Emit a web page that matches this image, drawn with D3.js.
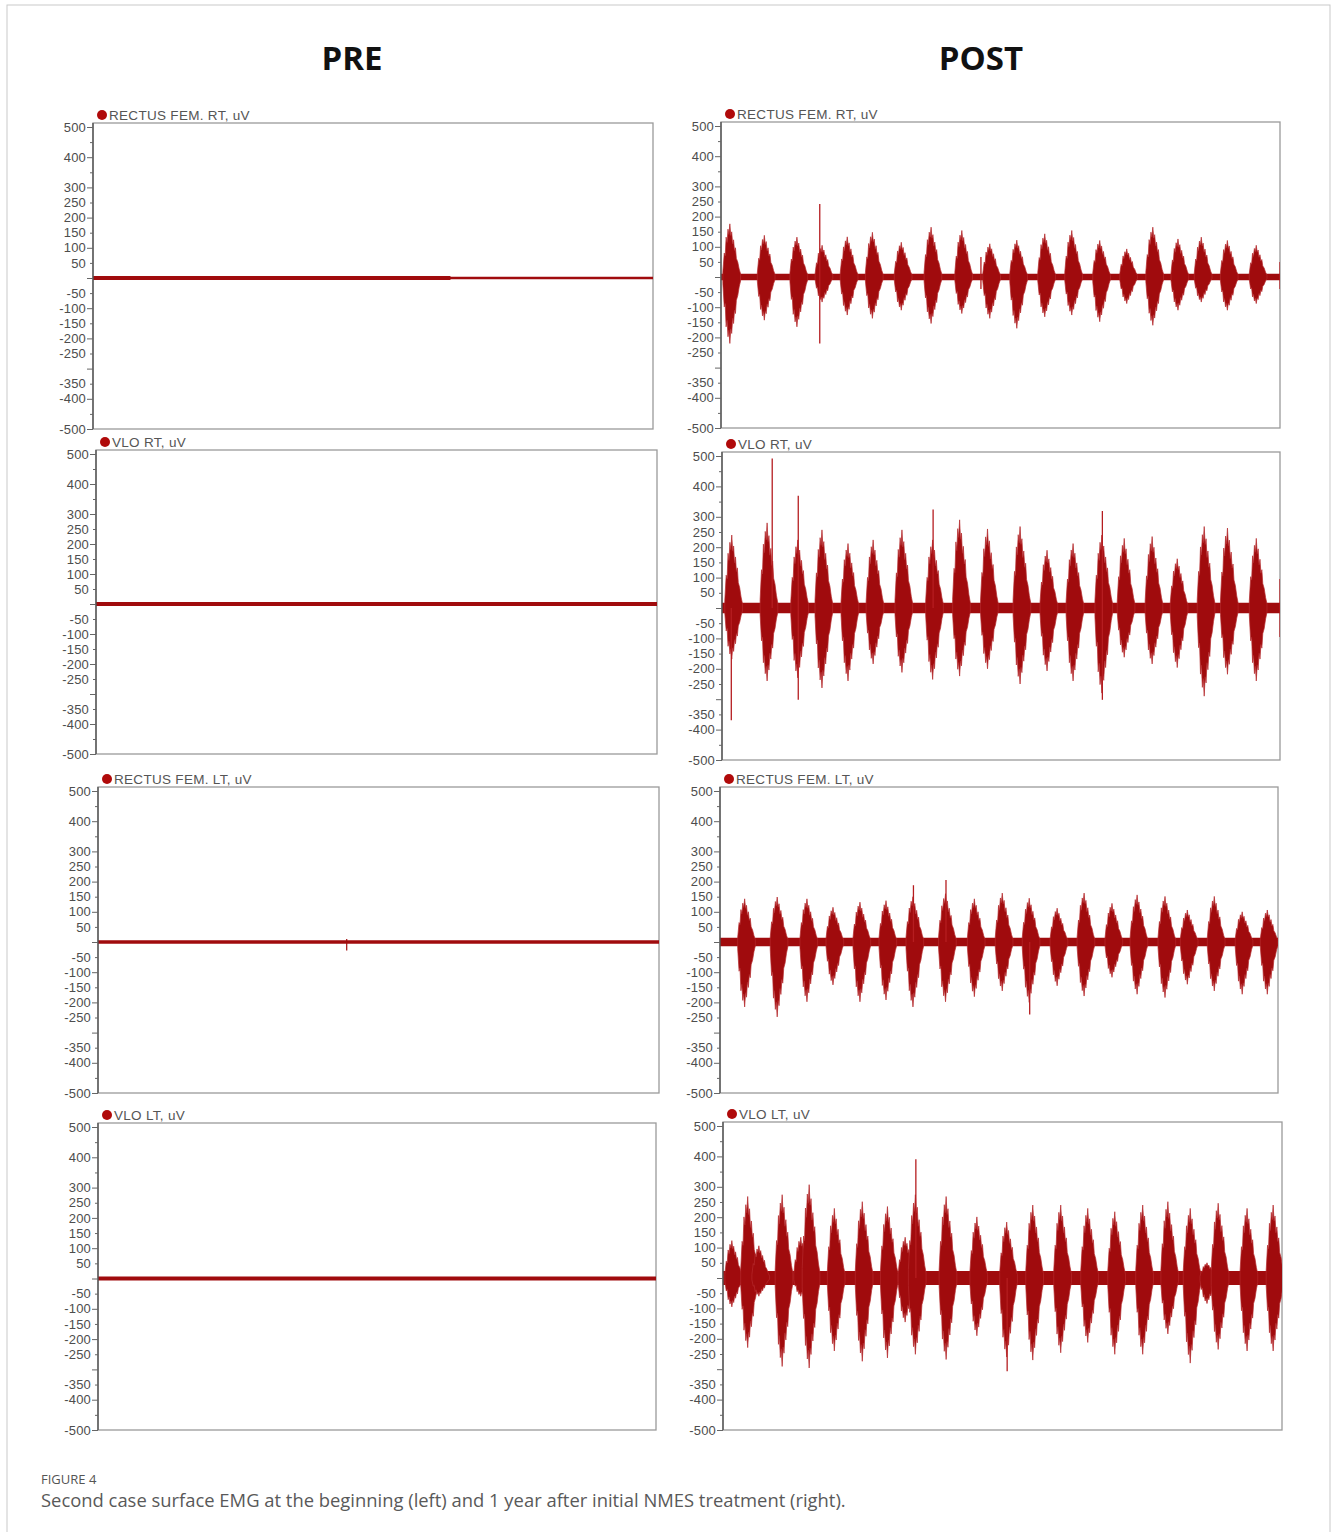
<!DOCTYPE html>
<html>
<head>
<meta charset="utf-8">
<script src="https://cdn.jsdelivr.net/npm/d3@7"></script>
<style>
body { margin: 0; background: #fff; }
svg { display: block; }
</style>
</head>
<body>
<svg id="chart"></svg>
<script>
const W = 1331, H = 1532;

// ---- data ----
const duration = 60; // recording length, s (x axis is not labelled)
const columns = ["PRE", "POST"];
const channels = ["RECTUS FEM. RT, uV", "VLO RT, uV", "RECTUS FEM. LT, uV", "VLO LT, uV"];
const yTicks = d3.range(-500, 501, 50);
const yLabelled = [500, 400, 300, 250, 200, 150, 100, 50, -50, -100, -150, -200, -250, -350, -400, -500];

// PRE: resting trace only, half-range in uV
const preNoise = [4, 7, 6, 7];
const preRFRTEarly = [0, 38.3, 7];    // t0, t1, half-range: noisier first part of RF RT
const preRFLTBlip = [26.6, 10, -28];  // t, hi, lo

// POST: baseline half-range and contraction bursts (t in s, peaks in uV)
const postNoise = [11, 17, 14, 23];

const postRFRT_t  = [1.0, 4.7, 8.2, 10.9, 13.6, 16.3, 19.4, 22.6, 25.9, 28.9, 31.8, 34.8, 37.7, 40.7, 43.6, 46.4, 49.1, 51.6, 54.4, 57.5];
const postRFRT_hi = [176, 138, 132, 105, 133, 148, 115, 165, 154, 110, 122, 143, 154, 121, 93, 165, 126, 132, 121, 105];
const postRFRT_lo = [-220, -143, -165, -83, -126, -137, -110, -154, -121, -137, -170, -132, -126, -148, -88, -160, -110, -83, -110, -88];
const postRFRT_spk = [[10.6, 242, -220], [27.9, 66, -40], [60, 50, -40]];

const postVLORT_t  = [1.1, 4.9, 8.2, 10.8, 13.6, 16.3, 19.4, 22.7, 25.6, 28.6, 32.1, 35.0, 37.8, 40.9, 43.3, 46.3, 49.0, 51.9, 54.4, 57.5];
const postVLORT_hi = [240, 280, 224, 257, 212, 224, 257, 224, 290, 260, 268, 190, 212, 240, 229, 235, 162, 268, 263, 229];
const postVLORT_lo = [-168, -240, -230, -263, -240, -184, -212, -235, -224, -200, -250, -207, -240, -280, -162, -184, -196, -290, -218, -240];
const postVLORT_spk = [[1.0, 0, -369], [5.4, 492, 0], [8.2, 369, -302], [22.7, 324, 0], [40.9, 319, -302], [60, 95, -95]];

const postRFLT_t  = [2.7, 6.2, 9.4, 12.2, 15.1, 17.9, 20.8, 24.3, 27.4, 30.4, 33.3, 36.3, 39.2, 42.2, 44.9, 47.9, 50.3, 53.2, 56.2, 58.9];
const postRFLT_hi = [143, 149, 143, 115, 132, 137, 150, 160, 143, 162, 145, 112, 162, 128, 156, 151, 106, 151, 100, 106];
const postRFLT_lo = [-215, -248, -198, -142, -198, -192, -215, -198, -181, -162, -200, -145, -179, -117, -173, -184, -140, -162, -173, -173];
const postRFLT_spk = [[20.8, 188, 0], [24.3, 205, 0], [33.3, 0, -240]];

const postVLOLT_t  = [1.0, 2.7, 3.9, 6.4, 8.4, 9.3, 12.0, 15.0, 17.7, 19.6, 20.7, 24.0, 27.3, 30.5, 33.3, 36.3, 39.2, 42.1, 45.1, 47.8, 50.2, 52.0, 53.2, 56.3, 59.1];
const postVLOLT_hi = [123, 268, 106, 274, 134, 307, 229, 251, 235, 134, 274, 268, 201, 184, 240, 240, 229, 218, 240, 251, 229, 50, 246, 229, 240];
const postVLOLT_lo = [-95, -229, -60, -291, -60, -296, -240, -274, -263, -145, -251, -268, -190, -260, -270, -246, -212, -251, -251, -184, -280, -84, -235, -240, -240];
const postVLOLT_spk = [[20.7, 391, 0], [30.5, 0, -307]];

const postBursts = [
  { t: postRFRT_t, hi: postRFRT_hi, lo: postRFRT_lo, spikes: postRFRT_spk },
  { t: postVLORT_t, hi: postVLORT_hi, lo: postVLORT_lo, spikes: postVLORT_spk },
  { t: postRFLT_t, hi: postRFLT_hi, lo: postRFLT_lo, spikes: postRFLT_spk },
  { t: postVLOLT_t, hi: postVLOLT_hi, lo: postVLOLT_lo, spikes: postVLOLT_spk }
];

// ---- layout / style ----
const layout = [
  { col: 0, row: 0, L: 93, R: 653, T: 123, B: 429 },
  { col: 0, row: 1, L: 96, R: 657, T: 450, B: 754 },
  { col: 0, row: 2, L: 98, R: 659, T: 787, B: 1093 },
  { col: 0, row: 3, L: 98, R: 656, T: 1123, B: 1430 },
  { col: 1, row: 0, L: 721, R: 1280, T: 122, B: 428 },
  { col: 1, row: 1, L: 722, R: 1280, T: 452, B: 760 },
  { col: 1, row: 2, L: 720, R: 1278, T: 787, B: 1093 },
  { col: 1, row: 3, L: 723, R: 1282, T: 1122, B: 1430 }
];
const headerX = [352, 981];
const red = "#a00b0d";
const axisFont = "'Liberation Sans', Arial, sans-serif";

// burst outline: [offset in s, fraction of peak]
const envelope = [[-0.8, 0.1], [-0.65, 0.45], [-0.55, 0.4], [-0.45, 0.75], [-0.35, 0.65], [-0.25, 0.9],
  [-0.15, 0.8], [-0.05, 1.0], [0.05, 0.78], [0.15, 0.85], [0.25, 0.62], [0.35, 0.7], [0.45, 0.5],
  [0.55, 0.55], [0.65, 0.35], [0.8, 0.28], [0.95, 0.15], [1.1, 0.06]];

const svg = d3.select("#chart").attr("width", W).attr("height", H);

svg.append("rect")
  .attr("x", 7).attr("y", 5).attr("width", 1323).attr("height", 1580)
  .attr("fill", "none").attr("stroke", "#c9c9c9").attr("stroke-width", 1);

svg.selectAll(".colhead")
  .data(columns)
  .enter()
  .append("text")
  .attr("x", (d, i) => headerX[i])
  .attr("y", 70)
  .attr("text-anchor", "middle")
  .attr("font-family", "'Open Sans', sans-serif")
  .attr("font-weight", 700)
  .attr("font-size", 33)
  .attr("fill", "#111")
  .text(d => d);

const line = d3.line();

layout.forEach((p, i) => {
  const x = d3.scaleLinear().domain([0, duration]).range([p.L, p.R]);
  const y = d3.scaleLinear().domain([-500, 500]).range([p.B, p.T + 4]);
  const g = svg.append("g");

  g.append("clipPath").attr("id", "clip" + i)
    .append("rect").attr("x", p.L).attr("y", p.T).attr("width", p.R - p.L).attr("height", p.B - p.T);

  g.append("rect")
    .attr("x", p.L).attr("y", p.T).attr("width", p.R - p.L).attr("height", p.B - p.T)
    .attr("fill", "#fff").attr("stroke", "#9a9a9a").attr("stroke-width", 1.3);

  const trace = g.append("g").attr("clip-path", `url(#clip${i})`);
  const band = (t0, t1, a) => trace.append("path")
    .attr("d", d3.area().x(d => x(d)).y0(y(-a)).y1(y(a))([t0, t1]))
    .attr("fill", red);

  if (p.col === 0) {
    band(0, duration, preNoise[p.row]);
    if (p.row === 0) band(preRFRTEarly[0], preRFRTEarly[1], preRFRTEarly[2]);
    if (p.row === 2) {
      trace.append("line")
        .attr("x1", x(preRFLTBlip[0])).attr("x2", x(preRFLTBlip[0]))
        .attr("y1", y(preRFLTBlip[1])).attr("y2", y(preRFLTBlip[2]))
        .attr("stroke", red).attr("stroke-width", 1.2);
    }
  } else {
    band(0, duration, postNoise[p.row]);
    const b = postBursts[p.row];
    trace.selectAll(".burst")
      .data(b.t.map((t, k) => ({ t, hi: b.hi[k], lo: b.lo[k] })))
      .enter()
      .append("path")
      .attr("d", d => {
        const top = envelope.map(([dt, f]) => [x(d.t + dt), y(d.hi * f)]);
        const bot = envelope.slice().reverse().map(([dt, f]) => [x(d.t + dt), y(d.lo * f)]);
        return line(top.concat(bot)) + "Z";
      })
      .attr("fill", red)
      .attr("stroke", "#b52a2c").attr("stroke-width", 0.7).attr("stroke-linejoin", "round");
    trace.selectAll(".spike")
      .data(b.spikes)
      .enter()
      .append("line")
      .attr("x1", d => x(d[0])).attr("x2", d => x(d[0]))
      .attr("y1", d => y(d[1])).attr("y2", d => y(d[2]))
      .attr("stroke", "#b51d20").attr("stroke-width", 1.3);
  }

  g.append("line")
    .attr("x1", p.L).attr("x2", p.L).attr("y1", p.T).attr("y2", p.B)
    .attr("stroke", "#555").attr("stroke-width", 1.4);

  const axis = d3.axisLeft(y)
    .tickValues(yTicks)
    .tickSize(6)
    .tickPadding(1)
    .tickFormat(d => yLabelled.includes(d) ? d : "");
  const ag = g.append("g").attr("transform", `translate(${p.L},0)`).call(axis);
  ag.select(".domain").remove();
  ag.selectAll(".tick line")
    .attr("x2", d => d % 100 === 0 ? -6 : -3)
    .attr("stroke", "#666");
  ag.selectAll(".tick text")
    .attr("font-family", axisFont)
    .attr("font-size", 13)
    .attr("letter-spacing", 0.2)
    .attr("fill", "#4d4d4d");

  g.append("circle")
    .attr("cx", p.L + 9).attr("cy", p.T - 8).attr("r", 5)
    .attr("fill", "#b00a0a");
  g.append("text")
    .attr("x", p.L + 16).attr("y", p.T - 3)
    .attr("font-family", axisFont)
    .attr("font-size", 13.5)
    .attr("letter-spacing", 0.3)
    .attr("fill", "#555")
    .text(channels[p.row]);
});

svg.append("text")
  .attr("x", 41).attr("y", 1484)
  .attr("font-family", "'Open Sans', sans-serif")
  .attr("font-size", 13)
  .attr("fill", "#555")
  .text("FIGURE 4");

svg.append("text")
  .attr("x", 41).attr("y", 1507)
  .attr("font-family", "'Open Sans', sans-serif")
  .attr("font-size", 18.4)
  .attr("fill", "#595959")
  .text("Second case surface EMG at the beginning (left) and 1 year after initial NMES treatment (right).");
</script>
</body>
</html>
